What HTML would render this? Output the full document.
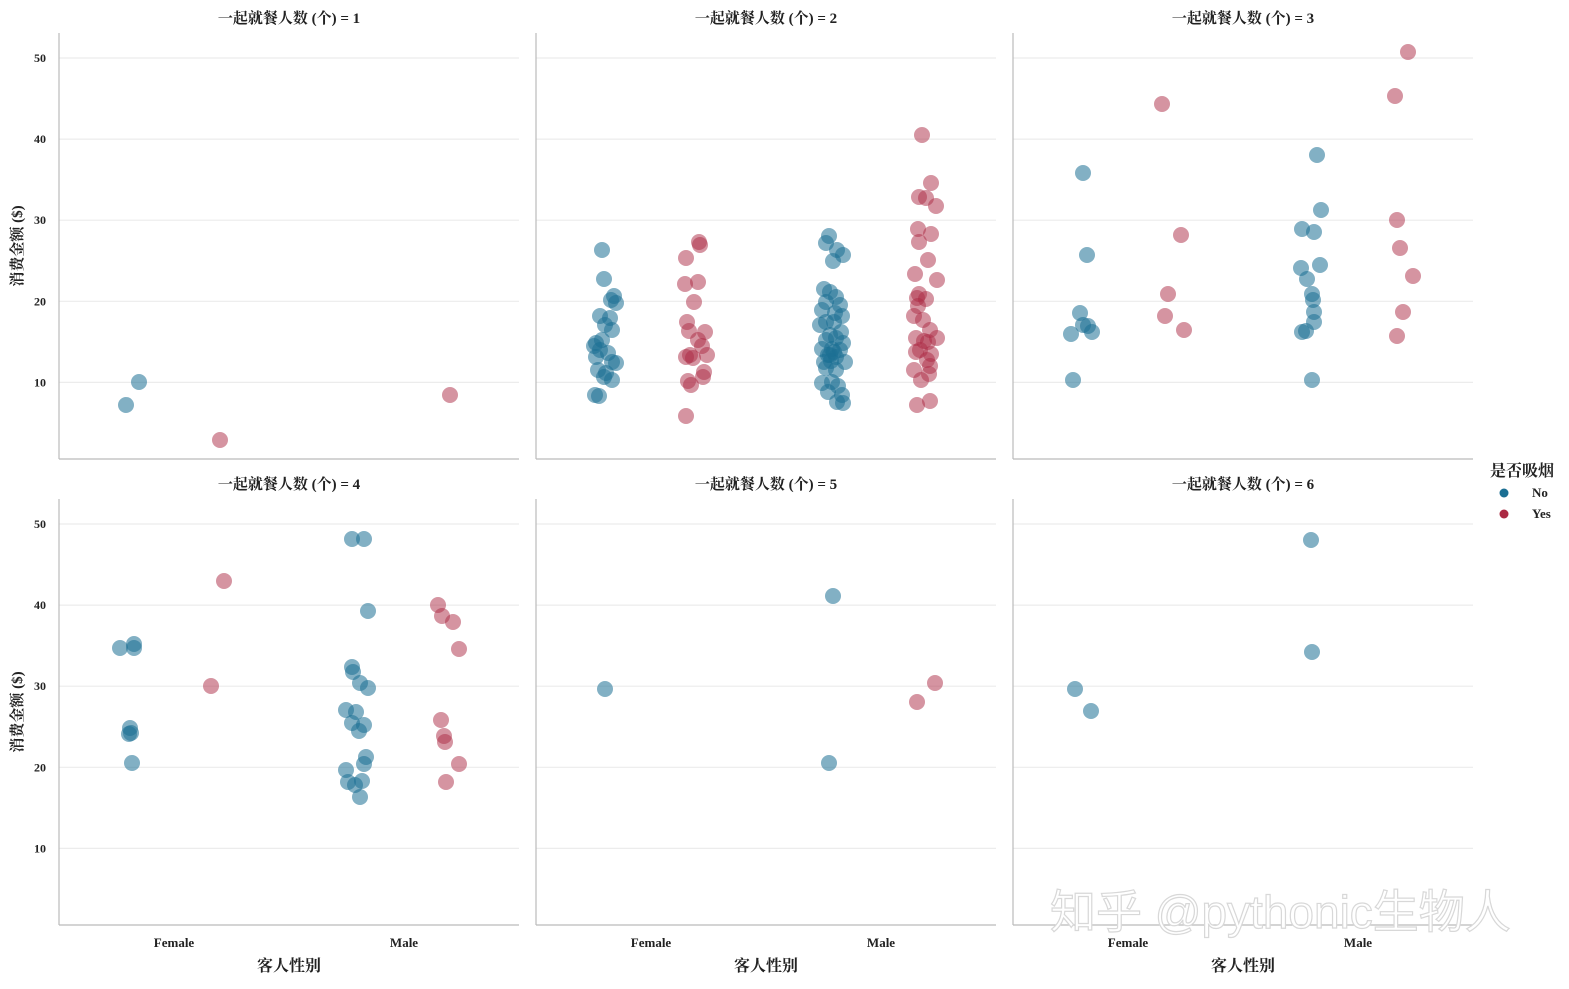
<!DOCTYPE html>
<html><head><meta charset="utf-8"><style>
body{margin:0;background:#fff}
svg text{font-family:"Liberation Serif","Noto Serif CJK SC",serif;fill:#222}
svg text.wm{font-family:"Liberation Sans","Noto Sans CJK SC",sans-serif}
</style></head><body>
<svg id="s" width="1569" height="984" xmlns="http://www.w3.org/2000/svg"></svg>
<script>
const s=document.getElementById('s');let h='';
const cols=[59,536,1013],rows=[33,499],W=460,H=426;
const blue='#1b6f93',red='#ab2a43';
for(let r=0;r<2;r++)for(let c=0;c<3;c++){
 const x0=cols[c],y0=rows[r];
 for(let v=10;v<=50;v+=10){const y=y0+25+(50-v)*8.11;
  h+=`<line x1="${x0}" x2="${x0+W}" y1="${y}" y2="${y}" stroke="#ececec" stroke-width="1.2"/>`;
  if(c==0)h+=`<text x="46" y="${y+4}" font-size="12" text-anchor="end" font-weight="bold">${v}</text>`;}
 h+=`<line x1="${x0}" x2="${x0}" y1="${y0}" y2="${y0+H}" stroke="#bbb" stroke-width="1.2"/><line x1="${x0}" x2="${x0+W}" y1="${y0+H}" y2="${y0+H}" stroke="#bbb" stroke-width="1.2"/>`;
 h+=`<text x="${x0+230}" y="${y0-10}" font-size="15" font-weight="bold" text-anchor="middle">一起就餐人数 (个) = ${r*3+c+1}</text>`;
 if(r==1){h+=`<text x="${x0+115}" y="947" font-size="13" font-weight="bold" text-anchor="middle">Female</text><text x="${x0+345}" y="947" font-size="13" font-weight="bold" text-anchor="middle">Male</text><text x="${x0+230}" y="971" font-size="16" font-weight="bold" text-anchor="middle">客人性别</text>`;}
}
[246,712].forEach(y=>h+=`<text transform="translate(22,${y}) rotate(-90)" font-size="15" font-weight="bold" text-anchor="middle">消费金额 ($)</text>`);
const B=[[126,405],[139,382],[602,250],[604,279],[614,296],[611,300],[616,303],[600,316],[610,318],[605,325],[612,330],[596,343],[594,346],[600,350],[608,353],[596,357],[612,362],[616,363],[598,370],[606,373],[612,380],[604,377],[595,395],[599,396],[602,340],
[829,236],[826,243],[837,250],[843,255],[833,261],[824,289],[830,292],[836,297],[826,302],[840,305],[822,310],[835,313],[842,316],[826,322],[834,322],[820,325],[841,332],[830,335],[836,338],[843,343],[826,340],[822,349],[832,349],[840,350],[828,355],[836,357],[824,362],[831,361],[845,362],[826,368],[836,370],[822,383],[832,382],[838,386],[828,392],[842,395],[837,402],[843,403],[830,355],[834,352],
[1083,173],[1087,255],[1080,313],[1083,325],[1088,326],[1071,334],[1092,332],[1073,380],[1317,155],[1321,210],[1302,229],[1314,232],[1320,265],[1301,268],[1307,279],[1312,294],[1313,300],[1314,312],[1314,322],[1302,332],[1306,331],[1312,380],
[120,648],[134,644],[134,648],[130,728],[131,733],[129,734],[132,763],[352,539],[364,539],[368,611],[352,667],[353,672],[360,683],[368,688],[346,710],[356,712],[352,723],[364,725],[359,731],[366,757],[364,764],[346,770],[348,782],[355,785],[362,781],[360,797],
[605,689],[833,596],[829,763],[1075,689],[1091,711],[1311,540],[1312,652]];
const R=[[220,440],[450,395],[699,242],[700,245],[686,258],[698,282],[685,284],[694,302],[687,322],[705,332],[689,331],[698,340],[702,346],[707,355],[690,355],[693,358],[686,357],[704,372],[703,377],[688,381],[691,385],[686,416],
[922,135],[931,183],[919,197],[926,198],[936,206],[918,229],[931,234],[919,242],[928,260],[915,274],[937,280],[919,294],[917,298],[926,299],[918,306],[914,316],[923,320],[930,330],[916,338],[937,338],[924,341],[928,342],[920,350],[931,354],[916,352],[927,360],[930,366],[914,370],[929,374],[921,380],[917,405],[930,401],
[1162,104],[1181,235],[1168,294],[1165,316],[1184,330],[1408,52],[1395,96],[1397,220],[1400,248],[1413,276],[1403,312],[1397,336],
[224,581],[211,686],[438,605],[442,616],[453,622],[459,649],[441,720],[444,736],[445,742],[459,764],[446,782],[935,683],[917,702]];
B.forEach(p=>h+=`<circle cx="${p[0]}" cy="${p[1]}" r="8" fill="${blue}" fill-opacity="0.55"/>`);
R.forEach(p=>h+=`<circle cx="${p[0]}" cy="${p[1]}" r="8" fill="${red}" fill-opacity="0.5"/>`);
h+=`<text x="1490" y="476" font-size="16" font-weight="bold">是否吸烟</text><circle cx="1504" cy="493" r="4.5" fill="${blue}"/><text x="1532" y="497" font-size="13" font-weight="bold">No</text><circle cx="1504" cy="514" r="4.5" fill="${red}"/><text x="1532" y="518" font-size="13" font-weight="bold">Yes</text>`;
h+=`<text class="wm" x="1050" y="928" font-size="46" style="fill:#fff;stroke:#d8d8d8;stroke-width:1.2">知乎 @pythonic生物人</text>`;
s.innerHTML=h;
</script>
</body></html>
